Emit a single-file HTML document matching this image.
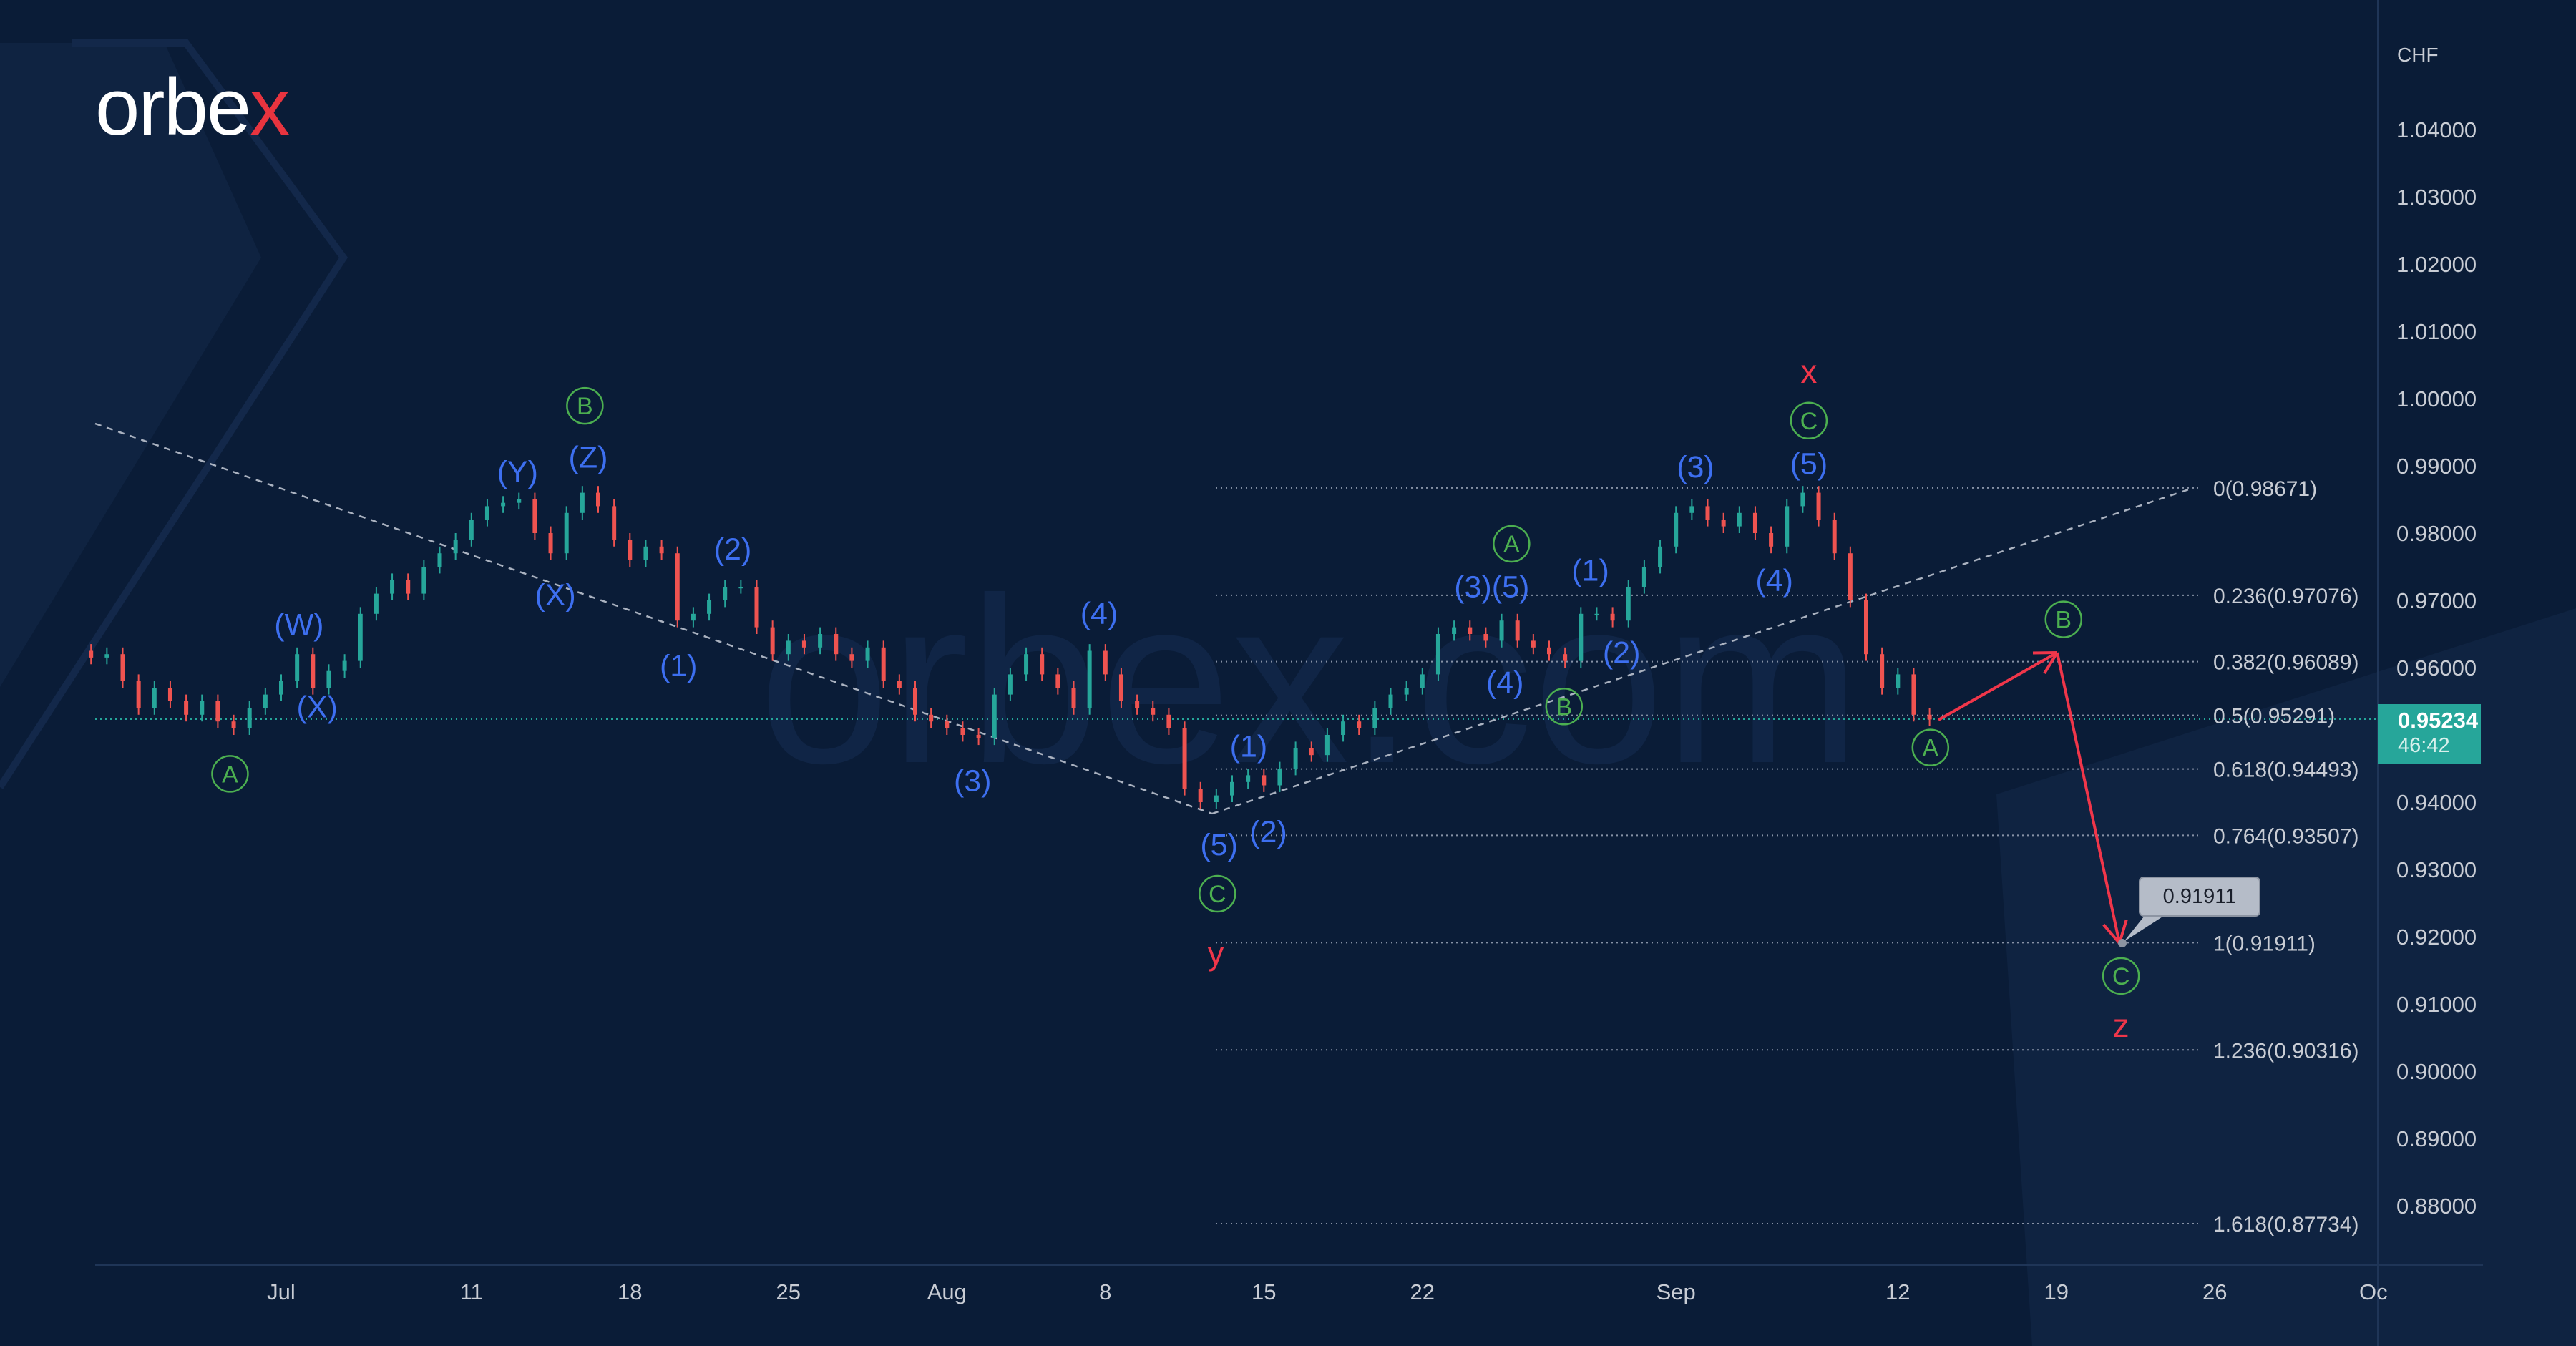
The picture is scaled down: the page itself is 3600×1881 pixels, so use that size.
<!DOCTYPE html>
<html><head><meta charset="utf-8"><style>
html,body{margin:0;padding:0;background:#0b1d38;}
svg{display:block;font-family:"Liberation Sans",sans-serif;}
</style></head><body>
<svg id="chart" width="3600" height="1881" viewBox="0 0 3600 1881" xmlns="http://www.w3.org/2000/svg">
<rect x="0" y="0" width="3600" height="1881" fill="#0a1c37"/>
<polygon points="0,60 230,60 365,360 0,960" fill="#0f2341"/>
<polyline points="100,60 260,60 480,360 0,1100" fill="none" stroke="#13284a" stroke-width="10"/>
<polygon points="2790,1110 3600,850 3600,1881 2840,1881" fill="#0f2341"/>
<text x="1060" y="1065" font-size="330" fill="#102546">orbex.com</text>
<g><text x="133" y="188" font-size="112" fill="#ffffff" font-weight="300" letter-spacing="-2">orbe<tspan fill="#e8343f">x</tspan></text></g>
<g id="grid"></g><g id="fib"></g><g id="trend"></g><g id="candles"></g><g id="labels"></g><g id="axis"></g>
</svg>
<script>
const NS='http://www.w3.org/2000/svg';
// ---- data ----
const closes=[0.9615,0.962,0.958,0.954,0.957,0.955,0.953,0.955,0.952,0.951,0.954,0.956,0.958,0.962,0.957,0.9595,0.961,0.968,0.971,0.973,0.971,0.975,0.977,0.979,0.982,0.984,0.9845,0.985,0.980,0.977,0.983,0.986,0.984,0.979,0.976,0.978,0.977,0.967,0.968,0.970,0.972,0.972,0.966,0.962,0.964,0.963,0.965,0.962,0.961,0.963,0.958,0.957,0.953,0.952,0.951,0.950,0.9495,0.956,0.959,0.962,0.959,0.957,0.954,0.9625,0.959,0.955,0.954,0.953,0.951,0.942,0.940,0.941,0.943,0.944,0.9425,0.945,0.948,0.947,0.950,0.952,0.951,0.954,0.956,0.957,0.959,0.965,0.966,0.965,0.964,0.967,0.964,0.963,0.962,0.961,0.968,0.968,0.967,0.972,0.975,0.978,0.983,0.984,0.982,0.981,0.983,0.980,0.978,0.984,0.986,0.982,0.977,0.970,0.962,0.957,0.959,0.953,0.9523];
const startDay=-6; // trading-day index of first candle (Jul 1 = 0)
const priceTicks=[1.04,1.03,1.02,1.01,1.00,0.99,0.98,0.97,0.96,0.95,0.94,0.93,0.92,0.91,0.90,0.89,0.88];
const dateLabels=["Jul","11","18","25","Aug","8","15","22","Sep","12","19","26","Oc"];
const dateDays=[0,6,11,16,21,26,31,36,44,51,56,61,66];
const fibRatios=["0","0.236","0.382","0.5","0.618","0.764","1","1.236","1.618"];
const fibPrices=[0.98671,0.97076,0.96089,0.95291,0.94493,0.93507,0.91911,0.90316,0.87734];
const lastPrice=0.95234;
// ---- scales ----
const Y=p=>651+(0.99-p)*9400;
const X=d=>393+d*44.3;
const S=2.296;
function el(tag,attrs,parent,txt){const e=document.createElementNS(NS,tag);for(const k in attrs)e.setAttribute(k,attrs[k]);if(txt!==undefined)e.textContent=txt;document.getElementById(parent).appendChild(e);return e;}
let a=el('line',{x1:3323,y1:0,x2:3323,y2:1881,stroke:'#1f3557','stroke-width':2},'axis');


a=el('line',{x1:133,y1:1768,x2:3470,y2:1768,stroke:'#1f3557','stroke-width':2},'axis');


a=el('text',{x:3350,y:86,'font-size':28,fill:'#c8ccd4'},'axis','CHF');


priceTicks.forEach(p=>{const t=el('text',{x:3349,y:Y(p)+11,'font-size':31,fill:'#c8ccd4'},'axis',p.toFixed(5));

});
dateLabels.forEach((d,i)=>{const t=el('text',{x:X(dateDays[i]),y:1816,'font-size':31,fill:'#c8ccd4','text-anchor':'middle'},'axis',d);

});
a=el('line',{x1:133,y1:Y(lastPrice),x2:3323,y2:Y(lastPrice),stroke:'#26a69a','stroke-width':2,'stroke-dasharray':'2 5'},'grid');


a=el('rect',{x:3323,y:Y(lastPrice)-21,width:144,height:84,fill:'#26a69a'},'axis');


a=el('text',{x:3351,y:Y(lastPrice)+12,'font-size':31,'font-weight':'bold',fill:'#ffffff'},'axis',lastPrice.toFixed(5));


a=el('text',{x:3351,y:Y(lastPrice)+46,'font-size':29,fill:'#d8f0ec'},'axis','46:42');


fibPrices.forEach((p,i)=>{const l=el('line',{x1:1699,y1:Y(p),x2:3072,y2:Y(p),stroke:'#8792a6','stroke-width':2,'stroke-dasharray':'2 5'},'fib');


const t=el('text',{x:3093,y:Y(p)+11,'font-size':30,fill:'#c8ccd4'},'fib',fibRatios[i]+'('+p.toFixed(5)+')');

});
[[133,592,1694,1137],[1694,1137,3065,682]].forEach(c=>{const l=el('line',{x1:c[0],y1:c[1],x2:c[2],y2:c[3],stroke:'#aab2c0','stroke-width':2.5,'stroke-dasharray':'9 8'},'trend');

});
closes.forEach((c,i)=>{const o=i?closes[i-1]:c+0.001;const d=startDay+i*0.5;const x=X(d);
const hi=Math.max(o,c)+0.001,lo=Math.min(o,c)-0.001;const col=c>=o?'#26a69a':'#ef5350';
const w=el('line',{x1:x,y1:Y(hi),x2:x,y2:Y(lo),stroke:col,'stroke-width':2},'candles');


const r=el('rect',{x:x-3,y:Y(Math.max(o,c)),width:6,height:Math.max(2,Math.abs(Y(o)-Y(c))),fill:col},'candles');

});
function arrow(x1,y1,x2,y2){const l=el('line',{x1,y1,x2,y2,stroke:'#f0364a','stroke-width':4},'labels');


const ang=Math.atan2(y2-y1,x2-x1);[0.5,-0.5].forEach(s=>{const h=el('line',{x1:x2,y1:y2,x2:x2-34*Math.cos(ang+s),y2:y2-34*Math.sin(ang+s),stroke:'#f0364a','stroke-width':4},'labels');

});}
arrow(2709,1006,2875,912);arrow(2875,912,2962,1318);
a=el('polygon',{points:'2968,1316 3000,1276 3030,1276',fill:'#b5bcc8'},'labels');


a=el('rect',{x:2990,y:1226,width:168,height:54,rx:6,fill:'#b5bcc8',stroke:'#8c94a2','stroke-width':2},'labels');


a=el('text',{x:3074,y:1262,'font-size':29,fill:'#1a1f2b','text-anchor':'middle'},'labels','0.91911');


a=el('circle',{cx:2966,cy:1318,r:6,fill:'#8c94a2'},'labels');


const circ=[['A',140,471],['B',356,247],['C',741,544],['A',920,331],['B',952,430],['C',1101,256],['A',1175,455],['B',1256,377],['C',1291,594]];
circ.forEach(c=>{const x=c[1]*S,y=c[2]*S;const ci=el('circle',{cx:x,cy:y,r:25,fill:'none',stroke:'#4caf50','stroke-width':2.5},'labels');


const t=el('text',{x:x,y:y+12,'font-size':34,fill:'#4caf50','text-anchor':'middle'},'labels',c[0]);

});
const blue=[['(W)',182,380],['(X)',193,430],['(Y)',315,287],['(Z)',358,278],['(X)',338,362],['(1)',413,405],['(2)',446,334],['(3)',592,475],['(4)',669,373],['(5)',742,514],['(1)',760,454],['(2)',772,506],['(3)(5)',908,357],['(4)',916,415],['(1)',968,347],['(2)',987,397],['(3)',1032,284],['(4)',1080,353],['(5)',1101,282]];
blue.forEach(b=>{const t=el('text',{x:b[1]*S,y:b[2]*S+15,'font-size':43,fill:'#3d6ff0','text-anchor':'middle'},'labels',b[0]);

});
[['x',1101,227],['y',740,581],['z',1291,625]].forEach(r=>{const t=el('text',{x:r[1]*S,y:r[2]*S+14,'font-size':46,fill:'#f0364a','text-anchor':'middle'},'labels',r[0]);

});
</script>
</body></html>
